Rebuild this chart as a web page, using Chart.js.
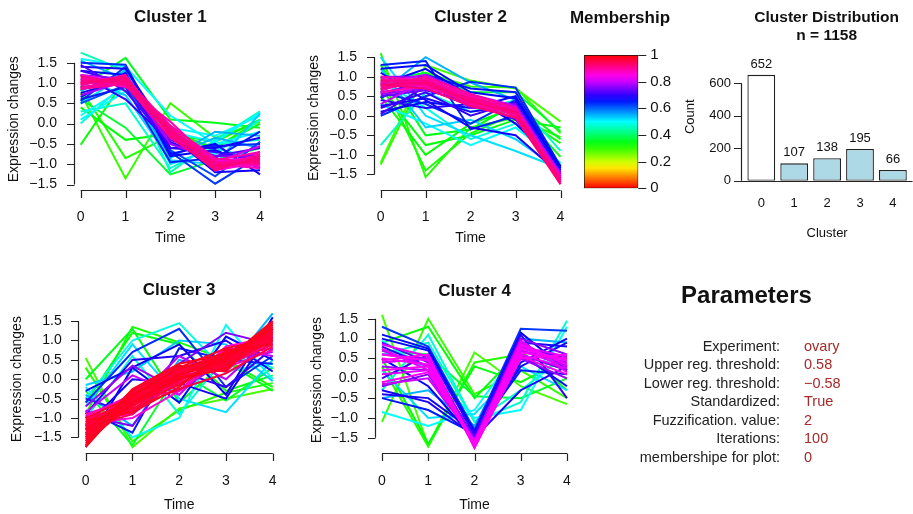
<!DOCTYPE html>
<html>
<head>
<meta charset="utf-8">
<script src="https://cdn.jsdelivr.net/npm/chart.js@4.4.0/dist/chart.umd.min.js"></script>
<style>
  body { margin: 0; background: #fff; width: 913px; height: 514px; overflow: hidden; position: relative; font-family: "Liberation Sans", Arial, sans-serif; }
  canvas { position: absolute; left: 0; top: 0; }
  .ptitle { position: absolute; left: 600px; width: 293px; top: 282px; text-align: center; font-weight: bold; font-size: 24px; line-height: 26px; color: #111; }
  .plabel { position: absolute; left: 636px; width: 144px; height: 18px; overflow: hidden; }
  .plabel span { position: absolute; right: 0; top: 0; white-space: nowrap; font-size: 14.5px; line-height: 18px; color: #222; }
  .pvalue { position: absolute; left: 804px; font-size: 14.5px; line-height: 18px; color: #a52a2a; white-space: nowrap; }
</style>
</head>
<body>
<canvas id="cluster1" width="913" height="514"></canvas>
<canvas id="cluster2" width="913" height="514"></canvas>
<canvas id="cluster3" width="913" height="514"></canvas>
<canvas id="cluster4" width="913" height="514"></canvas>
<canvas id="colorbar" width="913" height="514"></canvas>
<canvas id="distribution" width="913" height="514"></canvas>
<div id="params"></div>

<script>
const FONT = '"Liberation Sans", Arial, sans-serif'

// ---- data ----
const timePoints = [0, 1, 2, 3, 4]
const expressionTicks = [-1.5, -1, -0.5, 0, 0.5, 1, 1.5]

const cluster1Lines = [
  [0.75, -1.35, 0.5, -0.35, 0.05], [0.85, -0.85, -0.3, -0.6, 0.1], [-0.52, 1.1, -0.2, -0.6, 0.0],
  [0.4, -0.4, -0.25, -0.45, 0.1], [0.6, -0.1, -1.25, -0.9, -0.6], [0.9, 1.62, 0.1, 0.02, -0.1],
  [1.75, 1.3, -1.2, -0.4, 0.3], [0.2, 0.9, -0.1, -0.3, 0.2], [0.0, 1.0, -0.5, -0.75, 0.1],
  [1.6, 1.4, 0.2, -0.5, -0.2], [0.5, 1.2, -1.0, -0.6, -0.9], [0.3, 0.5, -1.1, -0.5, -0.4],
  [0.8, 1.3, -0.8, -0.35, -0.6], [1.1, 0.7, -0.9, -1.0, 0.25], [1.5, 1.45, -0.6, -0.55, -0.5],
  [0.55, 1.4, -0.7, -1.48, -0.8], [1.3, 1.2, -0.75, -0.5, -1.25], [0.6, 0.9, -0.95, -0.85, -0.2],
  [1.4, 1.35, -0.3, -1.2, -1.15], [0.75, 1.1, -0.6, -0.6, -0.35], [1.2, 0.6, -0.45, -0.9, -1.0],
  [0.9, 1.0, -0.4, -0.8, -0.8], [1.2, 1.1, -0.2, -1.05, -0.7], [0.7, 1.05, -0.5, -0.9, -1.0],
  [1.05, 0.95, -0.1, -0.95, -0.55], [0.85, 1.05, -0.15, -0.9, -0.85], [1.2, 1.0, -0.05, -1.15, -0.95],
  [0.95, 1.15, -0.3, -0.95, -1.05], [1.1, 1.05, -0.2, -1.0, -0.8], [1.0, 1.1, -0.1, -1.05, -0.9],
  [1.15, 1.0, -0.25, -0.95, -1.0], [0.9, 1.0, -0.2, -1.1, -0.75], [1.05, 1.1, -0.15, -1.0, -0.95],
  [1.0, 1.05, -0.2, -1.05, -0.9], [0.88, 1.12, -0.05, -0.85, -1.0], [1.18, 0.95, -0.35, -1.1, -0.85],
  [0.95, 1.2, -0.25, -0.9, -0.7], [1.1, 0.9, 0.05, -1.0, -1.1], [1.0, 1.15, -0.3, -1.15, -0.8],
  [0.85, 0.98, -0.1, -0.95, -0.95], [1.3, 1.0, -0.6, -0.7, -0.9], [0.65, 1.25, -0.8, -0.65, -1.1],
  [1.45, 0.8, -0.5, -0.8, -0.6], [0.5, 0.95, -0.65, -1.3, -0.45], [0.1, 0.8, -0.2, -0.45, 0.28],
  [1.55, 1.1, -0.85, -0.2, -0.3]
]
const cluster1Membership = [
  0.30, 0.31, 0.33, 0.34, 0.36, 0.35, 0.45, 0.50, 0.48, 0.50, 0.52, 0.47, 0.55, 0.53, 0.64, 0.63, 0.66,
  0.65, 0.68, 0.68, 0.70, 0.74, 0.76, 0.78, 0.80, 0.83, 0.85, 0.87, 0.88, 0.89, 0.90, 0.90, 0.91, 0.92,
  0.90, 0.91, 0.89, 0.88, 0.92, 0.90, 0.70, 0.67, 0.72, 0.62, 0.50, 0.55
]

const cluster2Lines = [
  [-1.2, 1.3, 0.9, 0.7, -0.15], [-1.25, 1.1, 0.75, 0.72, -0.45], [1.6, -1.57, -0.3, -0.05, -0.55],
  [1.0, -1.4, -0.45, 0.05, -0.7], [0.5, -1.0, -0.2, 0.2, -1.05], [0.7, -0.75, -0.5, -0.1, -0.3],
  [1.3, -0.5, -0.35, 0.3, -0.6], [0.9, 1.1, 0.6, 0.6, -0.4], [-0.75, 0.6, 0.1, 0.4, -0.9],
  [0.3, -0.2, -0.75, -0.3, -1.2], [1.5, 0.0, -0.5, -0.9, -1.35], [0.6, 1.5, 0.85, 0.4, -1.3],
  [1.2, -0.3, -0.1, -0.6, -1.4], [0.9, 0.2, -0.6, -0.2, -1.25], [0.0, 0.5, 0.87, 0.72, -1.3],
  [1.3, 1.4, -0.35, 0.0, -1.4], [0.1, 0.35, 0.2, 0.5, -1.35], [1.1, 0.4, -0.3, -0.5, -1.5],
  [0.4, 0.2, 0.3, 0.3, -1.45], [0.2, 0.6, 0.0, 0.35, -1.6], [0.8, 1.2, 0.5, -0.2, -1.3],
  [0.5, 0.65, 0.35, 0.3, -1.5], [1.0, 1.0, 0.2, 0.2, -1.55], [0.6, 0.8, 0.5, 0.0, -1.45],
  [0.3, 0.9, 0.4, 0.1, -1.6], [0.8, 0.8, 0.4, 0.1, -1.6], [0.7, 0.9, 0.45, 0.0, -1.65],
  [0.95, 0.85, 0.3, 0.15, -1.55], [0.6, 0.75, 0.35, 0.05, -1.7], [0.85, 0.95, 0.5, 0.1, -1.6],
  [0.75, 0.8, 0.3, -0.05, -1.7], [0.9, 0.9, 0.4, 0.05, -1.65], [0.8, 0.85, 0.35, 0.1, -1.75],
  [0.7, 0.85, 0.4, 0.0, -1.6], [0.9, 0.8, 0.45, 0.12, -1.7], [0.65, 0.95, 0.3, 0.05, -1.55],
  [1.0, 0.9, 0.5, 0.15, -1.65], [0.8, 0.7, 0.25, -0.05, -1.75], [0.75, 1.0, 0.55, 0.2, -1.6],
  [0.25, 0.45, 0.1, 0.25, -1.4], [1.2, 1.3, 0.6, 0.45, -1.35], [0.05, 0.75, 0.4, -0.1, -1.5],
  [0.6, 0.3, -0.2, 0.4, -1.45], [0.45, 1.05, 0.7, 0.6, -1.3], [0.55, 0.7, 0.25, 0.15, -1.55],
  [0.85, 1.05, 0.55, 0.25, -1.5]
]
const cluster2Membership = [
  0.29, 0.30, 0.31, 0.32, 0.33, 0.34, 0.35, 0.36, 0.46, 0.50, 0.52, 0.55, 0.53, 0.48, 0.64, 0.65, 0.66,
  0.68, 0.69, 0.70, 0.67, 0.74, 0.76, 0.78, 0.80, 0.83, 0.85, 0.87, 0.88, 0.89, 0.90, 0.91, 0.92,
  0.90, 0.91, 0.89, 0.88, 0.92, 0.90, 0.68, 0.66, 0.71, 0.64, 0.65, 0.77, 0.79
]

const cluster3Lines = [
  [0.55, -1.75, -0.75, -0.5, -0.25], [0.3, -1.6, -0.8, -0.35, -0.1], [-0.9, 1.35, 0.95, 0.5, -0.2],
  [-0.6, 1.2, 0.9, -0.3, 0.1], [0.0, 1.3, -0.6, 0.45, -0.3], [-0.3, -1.7, 0.2, -0.55, 0.3],
  [-0.5, 1.0, 1.45, 0.2, 0.4], [-0.2, -1.5, -1.0, 1.4, 0.0], [-0.7, 0.9, -0.5, -0.85, 0.5],
  [-0.4, -1.2, 0.5, 0.2, 1.7], [-1.0, 0.6, -0.9, 0.6, 0.3], [-0.15, 0.2, 1.0, 0.9, -0.05],
  [-0.6, 0.7, 1.3, -0.2, 0.6], [-0.8, -1.38, 0.8, 0.5, 0.4], [-0.3, 0.3, -0.6, 1.1, 0.5],
  [-1.2, 0.0, -0.1, -0.5, 1.3], [-0.9, 0.5, 0.6, 1.0, 0.2], [-0.5, -0.9, 0.2, -0.2, 0.8],
  [-1.75, 0.3, 0.9, -0.4, 1.6], [-0.95, -1.2, 0.4, 1.2, 0.9], [-0.7, 0.35, -0.3, 0.5, 0.7],
  [-1.1, -0.6, 0.6, 0.0, 1.1], [-0.85, 0.1, -0.4, 0.8, 0.6], [-1.0, -0.9, 0.0, 0.4, 0.9],
  [-1.3, -0.3, 0.3, 0.2, 1.3], [-0.9, -0.5, -0.3, 0.6, 0.8],
  [-1.2, -0.6, 0.0, 0.5, 1.1], [-1.4, -0.4, 0.2, 0.3, 1.2], [-1.1, -0.7, 0.1, 0.6, 1.0],
  [-1.5, -0.5, -0.1, 0.4, 1.3], [-1.3, -0.8, 0.15, 0.7, 1.15], [-1.6, -0.45, 0.25, 0.45, 1.4],
  [-1.2, -0.55, -0.05, 0.55, 1.2], [-1.35, -0.65, 0.05, 0.35, 1.05], [-1.45, -0.35, 0.2, 0.5, 1.25],
  [-1.25, -0.7, 0.1, 0.6, 1.15], [-1.4, -0.5, 0.0, 0.45, 1.35], [-1.15, -0.6, 0.15, 0.4, 1.0],
  [-1.7, -0.3, 0.35, 0.2, 1.45], [-1.05, -0.85, -0.2, 0.75, 0.9], [-1.55, -0.25, 0.4, 0.65, 1.3],
  [-1.3, -0.75, -0.25, 0.15, 0.85], [-1.0, -0.45, 0.3, 0.8, 1.05], [-1.65, -0.6, 0.05, 0.25, 1.5],
  [-1.1, -0.5, 0.2, 0.65, 1.0], [-1.5, -0.7, 0.0, 0.3, 1.2], [-1.3, -0.4, 0.3, 0.55, 1.4],
  [-1.2, -0.8, -0.1, 0.45, 0.95], [-1.6, -0.55, 0.15, 0.6, 1.3], [-1.4, -0.3, 0.25, 0.7, 1.1],
  [-1.0, -0.65, 0.05, 0.35, 0.9], [-1.75, -0.4, 0.1, 0.5, 1.5], [-1.25, -0.9, 0.2, 0.4, 1.25],
  [-1.45, -0.6, -0.15, 0.65, 1.2], [-0.95, -0.4, 0.1, 0.3, 0.75], [-1.15, -1.0, -0.3, 0.85, 1.1]
]
const cluster3Membership = [
  0.29, 0.31, 0.32, 0.34, 0.35, 0.36, 0.48, 0.50, 0.52, 0.55, 0.47, 0.53, 0.64, 0.65, 0.66, 0.68, 0.69,
  0.70, 0.67, 0.75, 0.77, 0.79, 0.80, 0.84, 0.86, 0.88,
  0.93, 0.93, 0.94, 0.94, 0.95, 0.95, 0.95, 0.96, 0.96, 0.96, 0.97, 0.97, 0.97, 0.98, 0.98, 0.96, 0.97, 0.98,
  0.96, 0.97, 0.98, 0.95, 0.97, 0.96, 0.94, 0.98, 0.95, 0.97, 0.88, 0.86
]

const cluster4Lines = [
  [1.6, -1.7, 0.65, -0.2, -0.65], [-1.1, 1.5, -0.4, 0.2, -0.5], [0.3, -1.72, 0.4, 0.6, 0.2],
  [0.9, 1.3, -0.5, 0.7, -0.3], [0.5, -1.65, 0.3, -0.1, 0.5], [0.7, 0.6, -0.45, -0.5, 0.0],
  [-0.3, 1.1, -1.1, -0.6, 1.45], [-0.85, -1.2, -0.8, 0.8, 0.3], [0.95, 0.2, -1.0, -0.8, 1.3],
  [-0.5, -0.3, -1.2, 1.0, 0.9], [0.2, -1.0, -0.9, 0.3, -0.3], [0.6, 0.9, -1.1, -0.3, 0.6],
  [1.3, 0.8, -1.3, 1.25, 1.2], [-0.5, -0.8, -1.4, 0.2, 0.1], [1.1, 0.75, -1.45, 0.6, -0.2],
  [-0.4, -0.5, -1.35, 0.9, 0.8], [0.8, 0.3, -1.5, -0.3, 0.3], [0.0, 0.6, -1.4, 1.1, -0.5],
  [0.5, -0.2, -1.55, 0.4, 1.0], [0.9, 0.4, -1.5, 0.8, 0.5], [-0.2, 0.1, -1.6, 0.6, 0.2],
  [0.6, 0.5, -1.55, 1.0, 0.6], [0.3, 0.2, -1.65, 0.5, 0.0], [0.7, 0.3, -1.6, 0.7, 0.4],
  [0.4, 0.5, -1.7, 0.9, 0.3], [0.1, 0.2, -1.65, 0.8, 0.55], [0.85, 0.55, -1.75, 0.6, 0.25],
  [0.5, 0.35, -1.7, 0.75, 0.45], [-0.1, 0.15, -1.6, 0.55, 0.1], [0.6, 0.45, -1.65, 0.85, 0.35],
  [0.2, 0.3, -1.7, 0.65, 0.5], [0.75, 0.2, -1.6, 0.95, 0.15], [-0.15, 0.0, -1.55, 0.7, 0.3],
  [0.45, 0.6, -1.75, 0.5, 0.6], [1.0, 0.7, -1.35, 1.15, 0.2], [-0.3, -0.6, -1.45, 0.3, 0.9]
]
const cluster4Membership = [
  0.29, 0.30, 0.31, 0.33, 0.34, 0.36, 0.47, 0.50, 0.50, 0.55, 0.52, 0.46, 0.63, 0.65, 0.66, 0.68, 0.69,
  0.70, 0.67, 0.73, 0.75, 0.76, 0.77, 0.79, 0.80, 0.81, 0.82, 0.83, 0.84, 0.83, 0.84, 0.82, 0.80, 0.84,
  0.66, 0.68
]

const membershipTicks = [0, 0.2, 0.4, 0.6, 0.8, 1]

const distCategories = ["0", "1", "2", "3", "4"]
const distCounts = [652, 107, 138, 195, 66]
const countTicks = [0, 200, 400, 600]
const totalGenes = 1158

const paramNames = ["Experiment:", "Upper reg. threshold:", "Lower reg. threshold:", "Standardized:",
  "Fuzzification. value:", "Iterations:", "Min. membershipe for plot:"]
const paramValues = ["ovary", "0.58", "\u22120.58", "True", "2", "100", "0"]

// ---- helpers ----
function memberColor(m) {
  return `hsl(${Math.round(360 * m)}, 100%, 50%)`
}

function fmtTick(v) {
  const s = Math.abs(v).toFixed(1)
  return v < 0 ? "\u2212" + s : s
}

function padFor(area) {
  return { left: area.left, top: area.top, right: 913 - area.right, bottom: 514 - area.bottom }
}

function rAxesPlugin(p) {
  return {
    id: "rAxes",
    afterDraw(chart) {
      const { ctx, chartArea: a } = chart
      const xs = chart.scales.x
      const ys = chart.scales.y
      ctx.save()
      ctx.strokeStyle = "#222"
      ctx.fillStyle = "#111"
      ctx.lineWidth = 1.2
      ctx.beginPath()
      const ax = Math.round(a.left) + 0.5
      ctx.moveTo(ax, ys.getPixelForValue(expressionTicks[0]))
      ctx.lineTo(ax, ys.getPixelForValue(expressionTicks[expressionTicks.length - 1]))
      expressionTicks.forEach((v) => {
        const py = Math.round(ys.getPixelForValue(v)) + 0.5
        ctx.moveTo(ax, py)
        ctx.lineTo(ax - 7.5, py)
      })
      const ay = Math.round(a.bottom) + 0.5
      ctx.moveTo(xs.getPixelForValue(timePoints[0]), ay)
      ctx.lineTo(xs.getPixelForValue(timePoints[timePoints.length - 1]), ay)
      timePoints.forEach((t) => {
        const px = Math.round(xs.getPixelForValue(t)) + 0.5
        ctx.moveTo(px, ay)
        ctx.lineTo(px, ay + 7.5)
      })
      ctx.stroke()

      ctx.font = `14px ${FONT}`
      ctx.textAlign = "right"
      ctx.textBaseline = "middle"
      expressionTicks.forEach((v) => ctx.fillText(fmtTick(v), a.left - 16.5, ys.getPixelForValue(v)))
      ctx.textAlign = "center"
      timePoints.forEach((t) => ctx.fillText(String(t), xs.getPixelForValue(t), p.tickY))
      ctx.fillText("Time", (a.left + a.right) / 2, p.xLabelY)
      ctx.save()
      ctx.translate(p.yLabelX, (a.top + a.bottom) / 2)
      ctx.rotate(-Math.PI / 2)
      ctx.fillText("Expression changes", 0, 0)
      ctx.restore()
      ctx.font = `bold 17px ${FONT}`
      ctx.fillText(p.title, (a.left + a.right) / 2, p.titleY)
      ctx.restore()
    },
  }
}

function drawCluster(p) {
  // highest membership first, Chart.js paints dataset 0 on top
  const order = p.lines.map((_, i) => i).sort((a, b) => p.member[b] - p.member[a])
  const datasets = order.map((i) => ({
    data: p.lines[i].map((v, k) => ({ x: timePoints[k], y: v })),
    borderColor: memberColor(p.member[i]),
    borderWidth: 2,
    pointRadius: 0,
    tension: 0,
    fill: false,
  }))
  new Chart(document.getElementById(p.id), {
    type: "line",
    data: { datasets },
    options: {
      responsive: false,
      animation: false,
      events: [],
      devicePixelRatio: 1,
      layout: { padding: padFor(p.area) },
      scales: {
        x: { type: "linear", min: p.xRange[0], max: p.xRange[1], display: false },
        y: { type: "linear", min: p.yRange[0], max: p.yRange[1], display: false },
      },
      plugins: { legend: { display: false }, tooltip: { enabled: false } },
    },
    plugins: [rAxesPlugin(p)],
  })
}

// ---- the four cluster panels ----
const clusterPanels = [
  { id: "cluster1", title: "Cluster 1", lines: cluster1Lines, member: cluster1Membership,
    area: { left: 73.5, right: 267.2, top: 48.5, bottom: 190 }, xRange: [-0.16, 4.16], yRange: [-1.635, 1.85],
    titleY: 17, tickY: 216.7, xLabelY: 238.5, yLabelX: 14 },
  { id: "cluster2", title: "Cluster 2", lines: cluster2Lines, member: cluster2Membership,
    area: { left: 373.5, right: 567.7, top: 45.9, bottom: 190 }, xRange: [-0.16, 4.16], yRange: [-1.899, 1.787],
    titleY: 17, tickY: 216.7, xLabelY: 238.5, yLabelX: 314 },
  { id: "cluster3", title: "Cluster 3", lines: cluster3Lines, member: cluster3Membership,
    area: { left: 78.2, right: 280.2, top: 305.6, bottom: 452.7 }, xRange: [-0.16, 4.16], yRange: [-1.894, 1.9],
    titleY: 290.5, tickY: 480.7, xLabelY: 505, yLabelX: 16.7 },
  { id: "cluster4", title: "Cluster 4", lines: cluster4Lines, member: cluster4Membership,
    area: { left: 374.6, right: 574.4, top: 306.9, bottom: 453.3 }, xRange: [-0.16, 4.16], yRange: [-1.891, 1.8],
    titleY: 291, tickY: 480.7, xLabelY: 505, yLabelX: 316.7 },
]
clusterPanels.forEach(drawCluster)

// ---- membership colour bar ----
const barArea = { left: 584, right: 638.3, top: 55, bottom: 188.3 }
new Chart(document.getElementById("colorbar"), {
  type: "bar",
  data: {
    labels: ["membership"],
    datasets: [{
      data: [1],
      backgroundColor: (c) => {
        const area = c.chart.chartArea
        if (!area) return "#fff"
        const g = c.chart.ctx.createLinearGradient(0, area.bottom, 0, area.top)
        for (let s = 0; s <= 20; s++) g.addColorStop(s / 20, memberColor(s / 20))
        return g
      },
      borderColor: "#111",
      borderWidth: 1,
      borderSkipped: false,
      barPercentage: 1,
      categoryPercentage: 1,
    }],
  },
  options: {
    responsive: false,
    animation: false,
    events: [],
    devicePixelRatio: 1,
    layout: { padding: padFor(barArea) },
    scales: { x: { display: false }, y: { min: 0, max: 1, display: false } },
    plugins: { legend: { display: false }, tooltip: { enabled: false } },
  },
  plugins: [{
    id: "barTicks",
    afterDraw(chart) {
      const { ctx, chartArea: a } = chart
      const ys = chart.scales.y
      ctx.save()
      ctx.strokeStyle = "#222"
      ctx.lineWidth = 1.2
      ctx.beginPath()
      membershipTicks.forEach((v) => {
        const py = Math.round(ys.getPixelForValue(v)) + 0.5
        ctx.moveTo(a.right, py)
        ctx.lineTo(a.right + 8, py)
      })
      ctx.stroke()
      ctx.fillStyle = "#111"
      ctx.font = `15px ${FONT}`
      ctx.textAlign = "left"
      ctx.textBaseline = "middle"
      membershipTicks.forEach((v) => ctx.fillText(String(v), a.right + 12, ys.getPixelForValue(v)))
      ctx.font = `bold 17px ${FONT}`
      ctx.textAlign = "center"
      ctx.fillText("Membership", 620, 18)
      ctx.restore()
    },
  }],
})

// ---- cluster distribution ----
const distArea = { left: 744.85, right: 909.35, top: 50.8, bottom: 180.7 }
new Chart(document.getElementById("distribution"), {
  type: "bar",
  data: {
    labels: distCategories,
    datasets: [{
      data: distCounts,
      backgroundColor: distCounts.map((_, i) => (i === 0 ? "#ffffff" : "#add8e6")),
      borderColor: "#222",
      borderWidth: 1.3,
      borderSkipped: false,
      barPercentage: 0.845,
      categoryPercentage: 1,
    }],
  },
  options: {
    responsive: false,
    animation: false,
    events: [],
    devicePixelRatio: 1,
    layout: { padding: padFor(distArea) },
    scales: { x: { display: false }, y: { min: 0, max: 800, display: false } },
    plugins: { legend: { display: false }, tooltip: { enabled: false } },
  },
  plugins: [{
    id: "distDecor",
    afterDraw(chart) {
      const { ctx, chartArea: a } = chart
      const ys = chart.scales.y
      const bars = chart.getDatasetMeta(0).data
      ctx.save()
      ctx.strokeStyle = "#222"
      ctx.lineWidth = 1.2
      ctx.beginPath()
      const ax = 741.5
      ctx.moveTo(ax, ys.getPixelForValue(countTicks[0]))
      ctx.lineTo(ax, ys.getPixelForValue(countTicks[countTicks.length - 1]))
      countTicks.forEach((v) => {
        const py = Math.round(ys.getPixelForValue(v)) + 0.5
        ctx.moveTo(ax, py)
        ctx.lineTo(ax - 7.5, py)
      })
      const base = Math.round(ys.getPixelForValue(0)) + 0.5
      ctx.moveTo(ax, base)
      ctx.lineTo(912.6, base)
      ctx.stroke()

      ctx.fillStyle = "#111"
      ctx.font = `13px ${FONT}`
      ctx.textBaseline = "middle"
      ctx.textAlign = "right"
      countTicks.forEach((v) => ctx.fillText(String(v), 731, ys.getPixelForValue(v)))
      ctx.textAlign = "center"
      bars.forEach((b, i) => {
        ctx.fillText(String(distCounts[i]), b.x, b.y - 10.5)
        ctx.fillText(distCategories[i], b.x, 203.3)
      })
      ctx.fillText("Cluster", (a.left + a.right) / 2, 233.3)
      ctx.save()
      ctx.translate(690, 116.7)
      ctx.rotate(-Math.PI / 2)
      ctx.fillText("Count", 0, 0)
      ctx.restore()
      ctx.font = `bold 15.5px ${FONT}`
      ctx.fillText("Cluster Distribution", 826.7, 18)
      ctx.fillText("n = " + totalGenes, 826.7, 36)
      ctx.restore()
    },
  }],
})

// ---- parameters text ----
const params = document.getElementById("params")
params.innerHTML = '<div class="ptitle">Parameters</div>' + paramNames.map((name, i) => {
  const top = 337 + i * 18.45
  return `<div class="plabel" style="top:${top}px"><span>${name}</span></div>` +
    `<div class="pvalue" style="top:${top}px">${paramValues[i]}</div>`
}).join("")
</script>
</body>
</html>
